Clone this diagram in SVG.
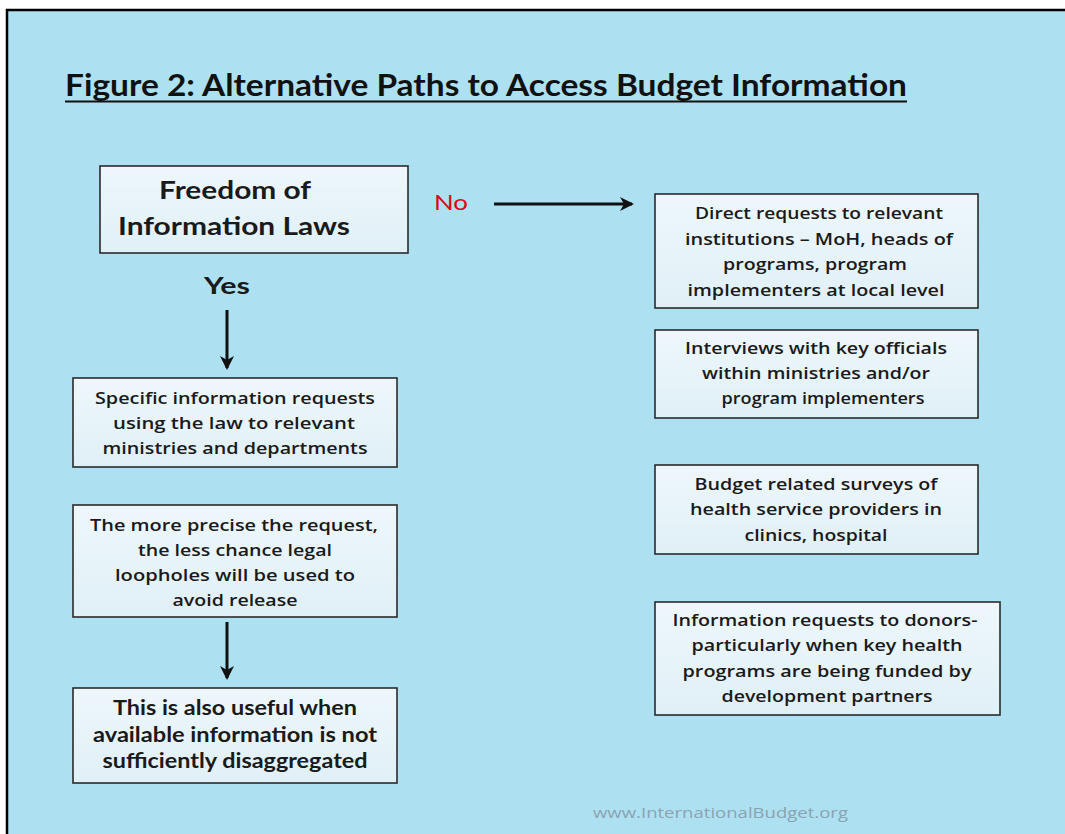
<svg xmlns="http://www.w3.org/2000/svg" width="1065" height="834" viewBox="0 0 1065 834">
  <defs>
    <linearGradient id="boxfill" x1="0" y1="0" x2="0" y2="1">
      <stop offset="0" stop-color="#eef7fb"/>
      <stop offset="1" stop-color="#e0f0f7"/>
    </linearGradient>
    <marker id="head" viewBox="0 0 14 14" refX="12" refY="7" markerWidth="14" markerHeight="14" markerUnits="userSpaceOnUse" orient="auto">
      <path d="M0,0 L14,7 L0,14 L4,7 Z" fill="#111"/>
    </marker>
    <style>
      .box { fill: url(#boxfill); stroke: #2b2b2b; stroke-width: 1.6; }
      .big { font-family: Lato, "Liberation Sans", sans-serif; font-weight: 700; fill: #1a1a1a; text-anchor: middle; }
      .small { font-family: "Open Sans", "Liberation Sans", sans-serif; font-weight: 600; font-size: 16px; fill: #1a1a1a; text-anchor: middle; }
      .conn { stroke: #111; stroke-width: 3; fill: none; marker-end: url(#head); }
    </style>
  </defs>

  <rect x="0" y="0" width="1065" height="834" fill="#ffffff"/>
  <rect x="7" y="10" width="1058" height="824" fill="#ade1f2"/>
  <path d="M7,834 L7,10 L1065,10" fill="none" stroke="#000" stroke-width="2.5"/>

  <g id="title">
    <text x="65" y="96" font-family="Lato, 'Liberation Sans', sans-serif" font-weight="700" font-size="31" fill="#111" textLength="842" lengthAdjust="spacingAndGlyphs">Figure 2: Alternative Paths to Access Budget Information</text>
    <line x1="65" y1="101.5" x2="907" y2="101.5" stroke="#111" stroke-width="2"/>
  </g>

  <g id="node-foi">
    <rect class="box" x="100" y="166" width="308" height="87"/>
    <text class="big" font-size="24" x="235" y="199" textLength="152" lengthAdjust="spacingAndGlyphs">Freedom of</text>
    <text class="big" font-size="24" x="234" y="235" textLength="232" lengthAdjust="spacingAndGlyphs">Information Laws</text>
  </g>

  <g id="label-no">
    <text x="451" y="210" font-family="Lato, 'Liberation Sans', sans-serif" font-size="22" fill="#e3000f" text-anchor="middle" textLength="34" lengthAdjust="spacingAndGlyphs">No</text>
  </g>
  <g id="label-yes">
    <text class="big" font-size="23" x="227" y="294" textLength="46" lengthAdjust="spacingAndGlyphs">Yes</text>
  </g>

  <g id="connectors">
    <line class="conn" x1="494" y1="204" x2="632" y2="204"/>
    <line class="conn" x1="227" y1="310" x2="227" y2="368"/>
    <line class="conn" x1="227" y1="622" x2="227" y2="678"/>
  </g>

  <g id="node-specific">
    <rect class="box" x="73" y="378" width="324" height="89"/>
    <text class="small" x="235" y="404" textLength="280" lengthAdjust="spacingAndGlyphs">Specific information  requests</text>
    <text class="small" x="234" y="429" textLength="242" lengthAdjust="spacingAndGlyphs">using the law to relevant</text>
    <text class="small" x="235" y="454" textLength="265" lengthAdjust="spacingAndGlyphs">ministries and departments</text>
  </g>

  <g id="node-precise">
    <rect class="box" x="73" y="505" width="324" height="112"/>
    <text class="small" x="234" y="531" textLength="288" lengthAdjust="spacingAndGlyphs">The more  precise the request,</text>
    <text class="small" x="235" y="556" textLength="194" lengthAdjust="spacingAndGlyphs">the less chance legal</text>
    <text class="small" x="235" y="581" textLength="240" lengthAdjust="spacingAndGlyphs">loopholes will be used to</text>
    <text class="small" x="235" y="606" textLength="125" lengthAdjust="spacingAndGlyphs">avoid release</text>
  </g>

  <g id="node-useful">
    <rect class="box" x="73" y="688" width="324" height="95"/>
    <text class="big" font-size="21" x="235" y="715" textLength="244" lengthAdjust="spacingAndGlyphs">This is also useful when</text>
    <text class="big" font-size="21" x="235" y="742" textLength="284" lengthAdjust="spacingAndGlyphs">available information is not</text>
    <text class="big" font-size="21" x="235" y="768" textLength="265" lengthAdjust="spacingAndGlyphs">sufficiently disaggregated</text>
  </g>

  <g id="node-direct">
    <rect class="box" x="655" y="194" width="323" height="114"/>
    <text class="small" x="819" y="219" textLength="248" lengthAdjust="spacingAndGlyphs">Direct requests to relevant</text>
    <text class="small" x="819" y="245" textLength="268" lengthAdjust="spacingAndGlyphs">institutions – MoH, heads of</text>
    <text class="small" x="815" y="270" textLength="184" lengthAdjust="spacingAndGlyphs">programs, program</text>
    <text class="small" x="816" y="296" textLength="257" lengthAdjust="spacingAndGlyphs">implementers at local  level</text>
  </g>

  <g id="node-interviews">
    <rect class="box" x="655" y="330" width="323" height="88"/>
    <text class="small" x="816" y="354" textLength="262" lengthAdjust="spacingAndGlyphs">Interviews with key officials</text>
    <text class="small" x="816" y="379" textLength="228" lengthAdjust="spacingAndGlyphs">within ministries and/or</text>
    <text class="small" x="823" y="404" textLength="203" lengthAdjust="spacingAndGlyphs">program implementers</text>
  </g>

  <g id="node-surveys">
    <rect class="box" x="655" y="465" width="323" height="89"/>
    <text class="small" x="816" y="490" textLength="243" lengthAdjust="spacingAndGlyphs">Budget related surveys of</text>
    <text class="small" x="816" y="515" textLength="252" lengthAdjust="spacingAndGlyphs">health service providers in</text>
    <text class="small" x="816" y="541" textLength="143" lengthAdjust="spacingAndGlyphs">clinics, hospital</text>
  </g>

  <g id="node-donors">
    <rect class="box" x="655" y="602" width="345" height="113"/>
    <text class="small" x="825" y="626" textLength="305" lengthAdjust="spacingAndGlyphs">Information  requests to donors-</text>
    <text class="small" x="827" y="651" textLength="271" lengthAdjust="spacingAndGlyphs">particularly  when key health</text>
    <text class="small" x="827" y="677" textLength="289" lengthAdjust="spacingAndGlyphs">programs are being funded  by</text>
    <text class="small" x="827" y="702" textLength="211" lengthAdjust="spacingAndGlyphs">development partners</text>
  </g>

  <g id="watermark">
    <text x="593" y="818" font-family="'Open Sans', 'Liberation Sans', sans-serif" font-size="15" fill="#8aa3b1" textLength="255" lengthAdjust="spacingAndGlyphs">www.InternationalBudget.org</text>
  </g>
</svg>
